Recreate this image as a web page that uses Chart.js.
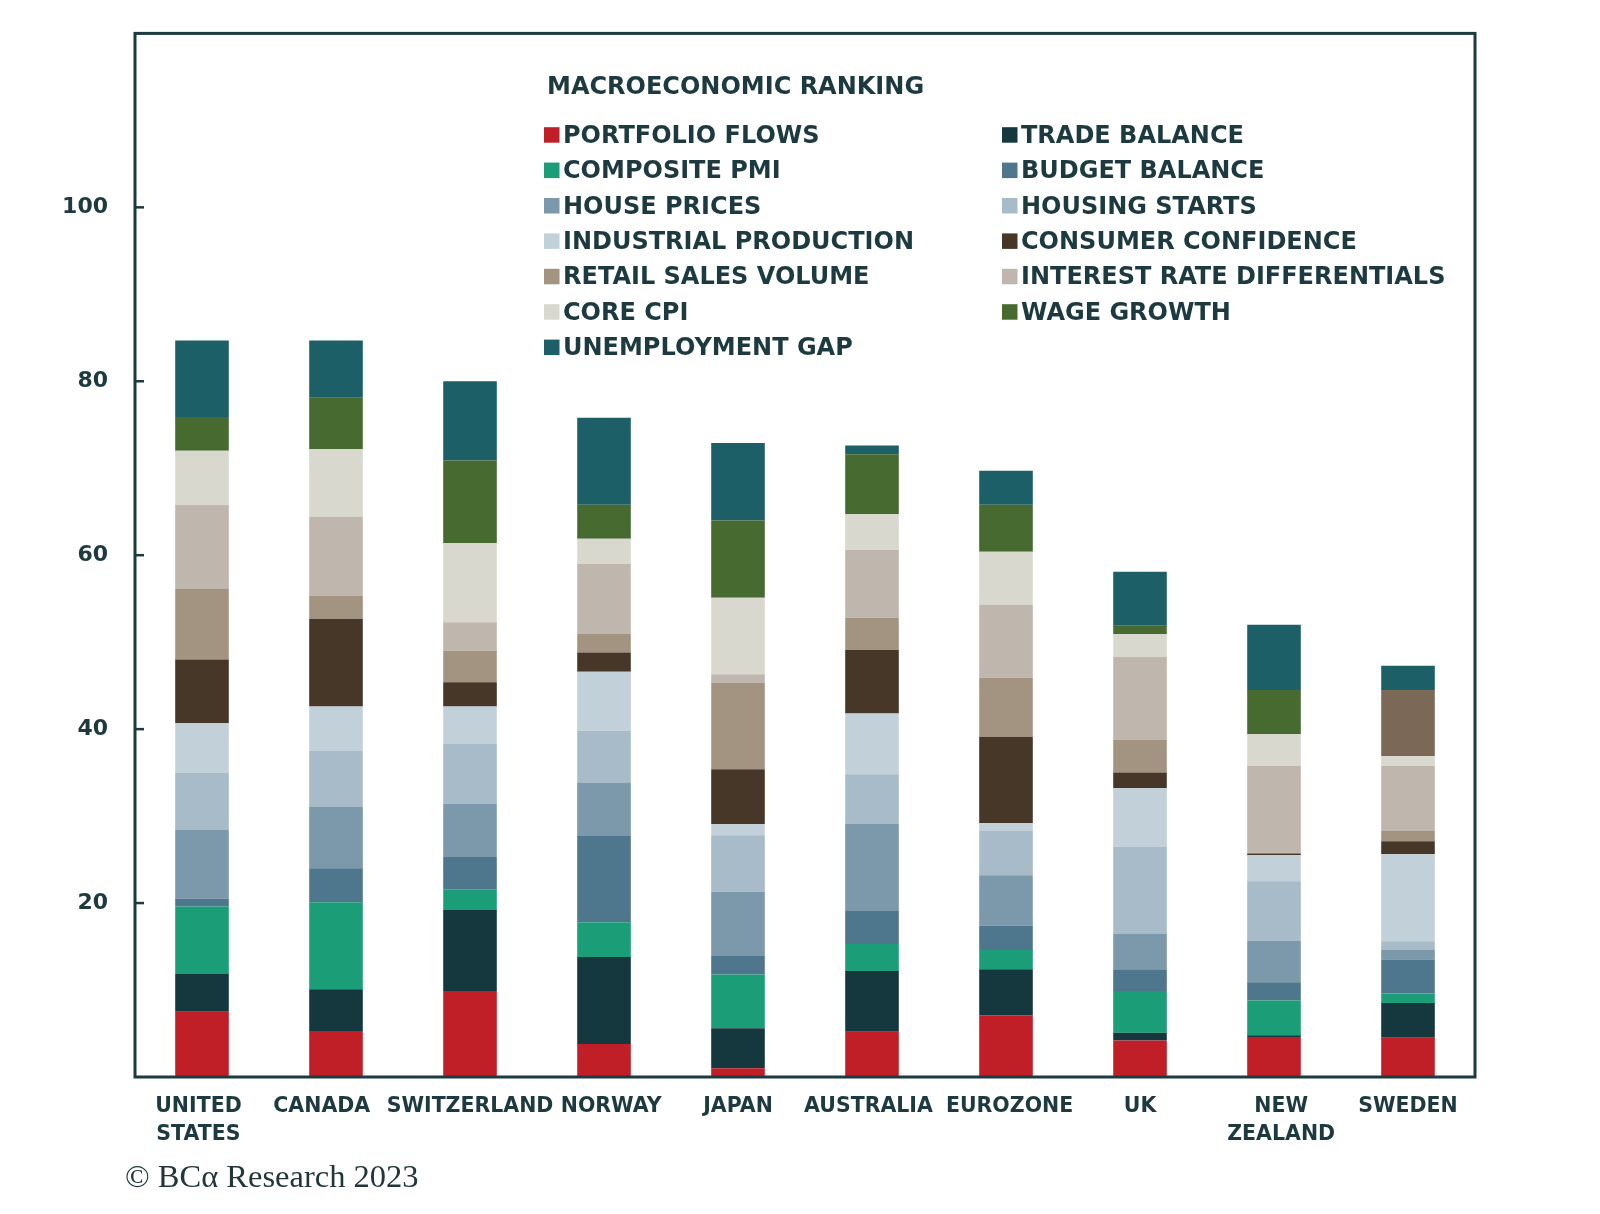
<!DOCTYPE html>
<html>
<head>
<meta charset="utf-8">
<script src="https://cdn.jsdelivr.net/npm/chart.js@4.4.1/dist/chart.umd.min.js"></script>
<style>
  html, body { margin: 0; padding: 0; background: #fff; }
  #wrap { position: relative; width: 1600px; height: 1214px; }
</style>
</head>
<body>
<div id="wrap"><canvas id="rankChart"></canvas></div>
<script>
const countries = [["UNITED", "STATES"], "CANADA", "SWITZERLAND", "NORWAY", "JAPAN",
  "AUSTRALIA", "EUROZONE", "UK", ["NEW", "ZEALAND"], "SWEDEN"];

// one value per country, bottom of the stack first
const portfolioFlows   = [7.5, 5.3, 9.9, 3.8, 1.0, 5.2, 7.1, 4.2, 4.6, 4.5];
const tradeBalance     = [4.4, 4.8, 9.3, 10.0, 4.6, 7.0, 5.3, 0.9, 0.2, 4.0];
const compositePmi     = [7.7, 10.0, 2.4, 4.0, 6.2, 3.1, 2.2, 4.8, 4.0, 1.1];
const budgetBalance    = [0.9, 3.9, 3.7, 9.9, 2.1, 3.8, 2.8, 2.4, 2.1, 3.9];
const housePrices      = [7.9, 7.1, 6.1, 6.1, 7.4, 10.0, 5.8, 4.2, 4.8, 1.1];
const housingStarts    = [6.6, 6.4, 6.9, 6.0, 6.5, 5.7, 5.1, 10.0, 6.8, 1.0];
const industrialProd   = [5.7, 5.1, 4.3, 6.8, 1.3, 7.0, 0.9, 6.7, 3.0, 10.0];
const consumerConf     = [7.3, 10.1, 2.8, 2.2, 6.3, 7.3, 9.9, 1.8, 0.2, 1.5];
const retailSales      = [8.1, 2.6, 3.6, 2.2, 9.9, 3.7, 6.8, 3.8, 0.1, 1.2];
const rateDiffs        = [9.7, 9.1, 3.3, 8.0, 1.0, 7.8, 8.4, 9.5, 10.0, 7.5];
const coreCpi          = [6.2, 7.8, 9.1, 2.9, 8.8, 4.1, 6.1, 2.6, 3.6, 1.1];
const wageGrowth       = [3.9, 5.9, 9.5, 3.9, 8.9, 6.9, 5.4, 1.0, 5.1, 7.6];
const unemploymentGap  = [8.8, 6.6, 9.1, 10.0, 8.9, 1.0, 3.9, 6.2, 7.5, 2.8];

const yTicks = [20, 40, 60, 80, 100];

const INK = "#1c3a3f";
const wageColor = "#476a30";
// Sweden's wage growth block is drawn in a brown tone in the original
const wageColors = countries.map((c, i) => (i === 9 ? "#7b6856" : wageColor));

// labels in the original sit a little off-centre; nudge in spaces (- = left)
const labelNudge = [-1, -4, 0, 2, 0, -1, 1, 0, 2, 0];

const series = [
  ["PORTFOLIO FLOWS", portfolioFlows, "#c11f28"],
  ["TRADE BALANCE", tradeBalance, "#14383d"],
  ["COMPOSITE PMI", compositePmi, "#1b9e77"],
  ["BUDGET BALANCE", budgetBalance, "#4e768c"],
  ["HOUSE PRICES", housePrices, "#7b99aa"],
  ["HOUSING STARTS", housingStarts, "#a7bbc8"],
  ["INDUSTRIAL PRODUCTION", industrialProd, "#c2d0da"],
  ["CONSUMER CONFIDENCE", consumerConf, "#463728"],
  ["RETAIL SALES VOLUME", retailSales, "#a39481"],
  ["INTEREST RATE DIFFERENTIALS", rateDiffs, "#bfb7ad"],
  ["CORE CPI", coreCpi, "#d8d8cf"],
  ["WAGE GROWTH", wageGrowth, wageColors],
  ["UNEMPLOYMENT GAP", unemploymentGap, "#1c5f67"],
];

const data = {
  labels: countries,
  datasets: series.map(([label, values, color]) => ({
    label,
    data: values,
    backgroundColor: color,
    legendColor: Array.isArray(color) ? wageColor : color,
    borderWidth: 0,
    barPercentage: 0.4,
    categoryPercentage: 1,
  })),
};

function nudge(text, n) {
  const pad = " ".repeat(Math.abs(n));
  return n < 0 ? text + pad : pad + text;
}

// frame around the plot and the short inward ticks on the value axis
const frameAndTicks = {
  id: "frameAndTicks",
  afterDatasetsDraw(chart) {
    const { ctx, chartArea: a, scales } = chart;
    ctx.save();
    ctx.strokeStyle = INK;
    ctx.lineWidth = 3;
    ctx.strokeRect(a.left, a.top, a.right - a.left, a.bottom - a.top);
    ctx.lineWidth = 2.5;
    yTicks.forEach((v) => {
      const py = scales.y.getPixelForValue(v);
      ctx.beginPath();
      ctx.moveTo(a.left, py);
      ctx.lineTo(a.left + 9, py);
      ctx.stroke();
    });
    ctx.restore();
  },
};

// two-column legend inside the plot, plus the footer line
const boxLegend = {
  id: "boxLegend",
  afterDraw(chart) {
    const ctx = chart.ctx;
    ctx.save();
    ctx.fillStyle = INK;
    ctx.textBaseline = "alphabetic";
    ctx.font = "bold 24px 'DejaVu Sans'";
    ctx.fillText("MACROECONOMIC RANKING", 547, 94);

    chart.data.datasets.forEach((ds, i) => {
      const col = i % 2;
      const row = Math.floor(i / 2);
      const base = 142.7 + row * 35.4;
      const bx = col === 0 ? 544 : 1002;
      ctx.fillStyle = ds.legendColor;
      ctx.fillRect(bx, base - 15.5, 15.5, 15.5);
      ctx.fillStyle = INK;
      ctx.fillText(ds.label, bx + 19, base);
    });

    ctx.fillStyle = "#22363a";
    ctx.font = "32.5px 'Liberation Serif'";
    ctx.fillText("\u00a9 BC\u03b1 Research 2023", 125, 1187);
    ctx.restore();
  },
};

Chart.defaults.font.family = "'DejaVu Sans'";
Chart.defaults.color = INK;

const config = {
  type: "bar",
  data: data,
  options: {
    responsive: true,
    maintainAspectRatio: false,
    animation: false,
    layout: { padding: { top: 33.4, right: 125, left: 0, bottom: 0 } },
    plugins: {
      legend: { display: false },
      tooltip: { enabled: false },
    },
    scales: {
      x: {
        stacked: true,
        grid: { display: false, drawTicks: false },
        border: { display: false },
        ticks: {
          autoSkip: false,
          maxRotation: 0,
          padding: 16,
          color: INK,
          font: { size: 20.5, weight: "bold", lineHeight: 1.366 },
          callback: function (value, index) {
            const label = this.getLabelForValue(value);
            const n = labelNudge[index];
            return Array.isArray(label) ? label.map((l) => nudge(l, n)) : nudge(label, n);
          },
        },
        afterFit: (s) => {
          s.height = 137;
          s.paddingLeft = 0;
          s.paddingRight = 0;
        },
      },
      y: {
        stacked: true,
        min: 0,
        max: 120,
        grid: { display: false, drawTicks: false },
        border: { display: false },
        ticks: {
          stepSize: 20,
          padding: 27,
          color: INK,
          font: { size: 22, weight: "bold" },
          callback: (v) => (yTicks.includes(v) ? v : ""),
        },
        afterFit: (s) => {
          s.width = 135;
          s.paddingTop = 0;
          s.paddingBottom = 0;
        },
      },
    },
  },
  plugins: [frameAndTicks, boxLegend],
};

const rankChart = new Chart(document.getElementById("rankChart"), config);
</script>
</body>
</html>
